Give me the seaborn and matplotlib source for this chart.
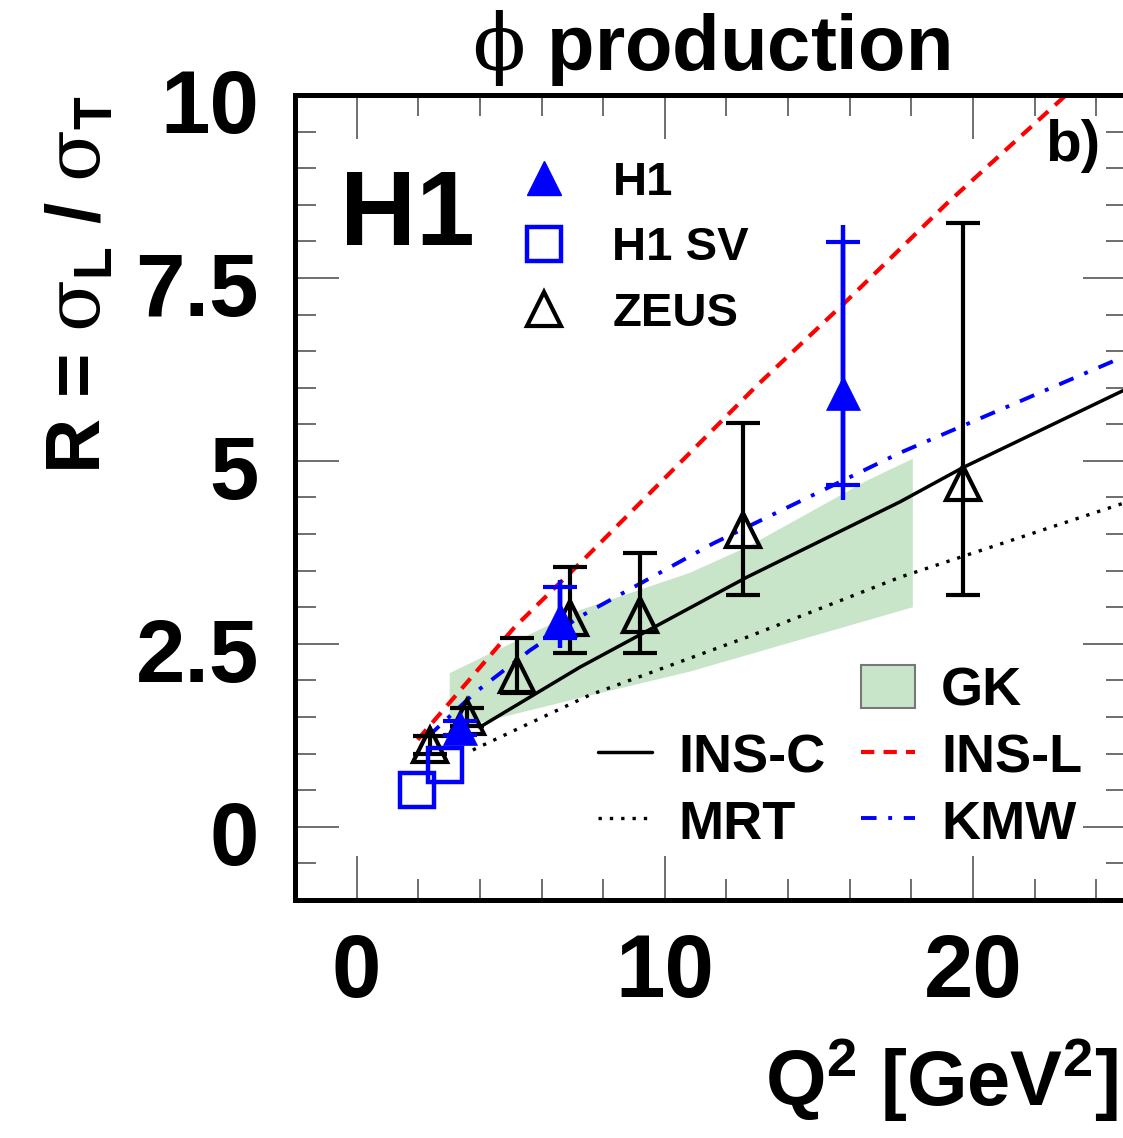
import matplotlib
matplotlib.use("Agg")
import matplotlib.pyplot as plt
from matplotlib.lines import Line2D
from matplotlib.patches import Patch
from matplotlib.ticker import MultipleLocator
from matplotlib.transforms import ScaledTranslation
import seaborn as sns

# ---- measurements ----
zeus_q2 = [2.37, 3.57, 5.19, 6.92, 9.19, 12.53, 19.68]
zeus_r = [1.12, 1.50, 2.07, 2.85, 2.89, 4.05, 4.70]
zeus_lo = [1.00, 1.38, 1.83, 2.37, 2.37, 3.17, 3.17]
zeus_hi = [1.24, 1.62, 2.58, 3.55, 3.74, 5.52, 8.25]

h1_q2 = [3.34, 6.59, 15.78]
h1_r = [1.35, 2.83, 5.93]
h1_stat_lo = [1.25, 2.58, 4.67]
h1_stat_hi = [1.45, 3.28, 7.99]
h1_tot_lo = [1.22, 2.44, 4.46]
h1_tot_hi = [1.48, 3.37, 8.22]

h1sv_q2 = [1.95, 2.86]
h1sv_r = [0.50, 0.84]

# ---- model curves ----
insc_q2 = [3.99, 7.24, 12.66, 17.63, 19.68, 24.87]
insc_r = [1.36, 2.18, 3.41, 4.44, 4.91, 5.96]

insl_q2 = [1.98, 5.13, 7.34, 12.99, 15.91, 19.16, 22.92, 23.5]
insl_r = [1.19, 2.73, 3.64, 6.03, 7.19, 8.52, 9.96, 10.2]

mrt_q2 = [3.77, 7.56, 12.66, 17.63, 24.87]
mrt_r = [1.05, 1.80, 2.59, 3.41, 4.42]

kmw_q2 = [2.31, 3.83, 5.62, 7.24, 11.56, 17.63, 24.87]
kmw_r = [1.23, 1.83, 2.41, 2.87, 3.87, 5.11, 6.42]

gk_up_q2 = [3.02, 7.24, 10.81, 12.66, 16.56, 18.05]
gk_up_r = [2.10, 2.96, 3.47, 3.82, 4.73, 5.03]
gk_lo_q2 = [3.02, 7.24, 10.81, 18.05]
gk_lo_r = [1.32, 1.76, 2.12, 3.00]

ytick_vals = [0, 2.5, 5, 7.5, 10]
ytick_labels = ["0", "2.5", "5", "7.5", "10"]
xtick_vals = [0, 10, 20]
xtick_labels = ["0", "10", "20"]

# ---- style ----
sns.set_style("ticks")
plt.rcParams["font.family"] = ["Liberation Sans", "DejaVu Sans"]
plt.rcParams["text.color"] = "black"
plt.rcParams["axes.labelcolor"] = "black"
plt.rcParams["axes.labelweight"] = "bold"
plt.rcParams["mathtext.fontset"] = "custom"
plt.rcParams["mathtext.rm"] = "Liberation Sans:weight=bold"
plt.rcParams["mathtext.bf"] = "Liberation Sans:weight=bold"
plt.rcParams["mathtext.it"] = "DejaVu Serif:weight=normal"

GREEN = "#c9e5c9"
BLUE = "#0000ff"
RED = "#ff0000"

fig = plt.figure(figsize=(11.23, 11.38), dpi=100)
ax = fig.add_axes([295 / 1123, 238 / 1138, 832 / 1123, 805 / 1138])
ax.set_xlim(-2, 25)
ax.set_ylim(-1, 10)

# GK band
ax.fill(gk_up_q2 + gk_lo_q2[::-1], gk_up_r + gk_lo_r[::-1],
        color=GREEN, lw=0, zorder=1)

# model curves
sns.lineplot(x=mrt_q2, y=mrt_r, ax=ax, color="black", lw=2.4, sort=False,
             linestyle=(0, (1, 2.4)), zorder=2)
sns.lineplot(x=insc_q2, y=insc_r, ax=ax, color="black", lw=2.5, sort=False, zorder=2)
sns.lineplot(x=kmw_q2, y=kmw_r, ax=ax, color=BLUE, lw=2.8, sort=False,
             linestyle=(0, (4, 3, 1, 3)), zorder=2)
sns.lineplot(x=insl_q2, y=insl_r, ax=ax, color=RED, lw=3.0, sort=False,
             linestyle=(0, (3.2, 2.2)), zorder=2)

# ZEUS points
ax.errorbar(zeus_q2, zeus_r,
            yerr=[[r - lo for r, lo in zip(zeus_r, zeus_lo)],
                  [hi - r for r, hi in zip(zeus_r, zeus_hi)]],
            fmt="^", ms=24, mfc="none", mec="black", mew=3, ecolor="black",
            elinewidth=3, capsize=12, capthick=3, zorder=4)

# H1 points: total uncertainty line, statistical caps
ax.errorbar(h1_q2, h1_r,
            yerr=[[r - lo for r, lo in zip(h1_r, h1_tot_lo)],
                  [hi - r for r, hi in zip(h1_r, h1_tot_hi)]],
            fmt="none", ecolor=BLUE, elinewidth=3.2, capsize=0, zorder=3)
ax.errorbar(h1_q2, h1_r,
            yerr=[[r - lo for r, lo in zip(h1_r, h1_stat_lo)],
                  [hi - r for r, hi in zip(h1_r, h1_stat_hi)]],
            fmt="none", ecolor=BLUE, elinewidth=3.2, capsize=12, capthick=3,
            zorder=5)
ax.plot(h1_q2, h1_r, "^", ms=24, mfc=BLUE, mec=BLUE, mew=0.5, zorder=5)

# H1 SV points
ax.plot(h1sv_q2, h1sv_r, "s", ms=24, mfc="none", mec=BLUE, mew=3.2, zorder=5)

# ---- axes ----
for side in ["left", "right", "top", "bottom"]:
    ax.spines[side].set_linewidth(3.6)
    ax.spines[side].set_color("black")
    ax.spines[side].set_zorder(6)

ax.set_xticks(xtick_vals)
ax.set_xticklabels(xtick_labels)
ax.set_yticks(ytick_vals)
ax.set_yticklabels(ytick_labels)
ax.xaxis.set_minor_locator(MultipleLocator(2))
ax.yaxis.set_minor_locator(MultipleLocator(0.5))
ax.tick_params(which="both", direction="in", top=True, right=True,
               color="#555555", width=1.2, labelcolor="black")
ax.tick_params(which="major", length=32)
ax.tick_params(which="minor", length=15)
ax.tick_params(axis="y", which="major", pad=26)
ax.tick_params(axis="x", which="major", pad=23)
shift_down = ScaledTranslation(0, -6 / 100, fig.dpi_scale_trans)
for lab in ax.get_yticklabels():
    lab.set_fontweight("bold")
    lab.set_fontsize(64)
    lab.set_transform(lab.get_transform() + shift_down)
for lab in ax.get_xticklabels():
    lab.set_fontweight("bold")
    lab.set_fontsize(64)

ax.set_xlabel(r"Q$^{\mathrm{2}}$ [GeV$^{\mathrm{2}}$]", fontsize=56,
              fontweight="bold", loc="right")
ax.xaxis.set_label_coords(0.989, -0.17)
ax.set_ylabel(r"R = $\sigma_{\mathrm{L}}$ / $\sigma_{\mathrm{T}}$", fontsize=55,
              fontweight="bold", loc="top")
ax.yaxis.set_label_coords(-0.215, 1.0)

fig.text(711 / 1123, 1 - 70 / 1138, r"$\phi$ production", fontsize=56,
         fontweight="bold", ha="center", va="baseline")

ax.text(0.054, 0.814, "H1", transform=ax.transAxes, fontsize=76,
        fontweight="bold", ha="left", va="baseline")
ax.text(0.901, 0.918, "b)", transform=ax.transAxes, fontsize=42,
        fontweight="bold", ha="left", va="baseline")

# ---- legends ----
data_handles = [
    Line2D([], [], ls="none", marker="^", ms=24, mfc=BLUE, mec=BLUE),
    Line2D([], [], ls="none", marker="s", ms=24, mfc="none", mec=BLUE, mew=3.2),
    Line2D([], [], ls="none", marker="^", ms=24, mfc="none", mec="black", mew=3),
]
leg1 = ax.legend(data_handles, ["H1", "H1 SV", "ZEUS"], loc="upper left",
                 bbox_to_anchor=(0.272, 0.918), frameon=False,
                 prop={"size": 34, "weight": "bold"},
                 handlelength=0.95, handletextpad=0.98, labelspacing=0.45,
                 borderpad=0, borderaxespad=0)
ax.add_artist(leg1)

model_handles = [
    Line2D([], [], ls="none"),
    Line2D([], [], color="black", lw=2.5),
    Line2D([], [], color="black", lw=2.4, linestyle=(0, (1, 2.4))),
    Patch(facecolor=GREEN, edgecolor="#777777", lw=1.5),
    Line2D([], [], color=RED, lw=3.0, linestyle=(0, (3.2, 2.2))),
    Line2D([], [], color=BLUE, lw=2.8, linestyle=(0, (4, 3, 1, 3))),
]
model_labels = ["", "INS-C", "MRT", "GK", "INS-L", "KMW"]
ax.legend(model_handles, model_labels, ncol=2, loc="lower left",
          bbox_to_anchor=(0.364, 0.0627), frameon=False,
          prop={"size": 39, "weight": "bold"},
          handlelength=1.0, handleheight=0.85, handletextpad=0.48,
          columnspacing=0.66, labelspacing=0.28, borderpad=0, borderaxespad=0)

fig.savefig("out.png", dpi=100)
